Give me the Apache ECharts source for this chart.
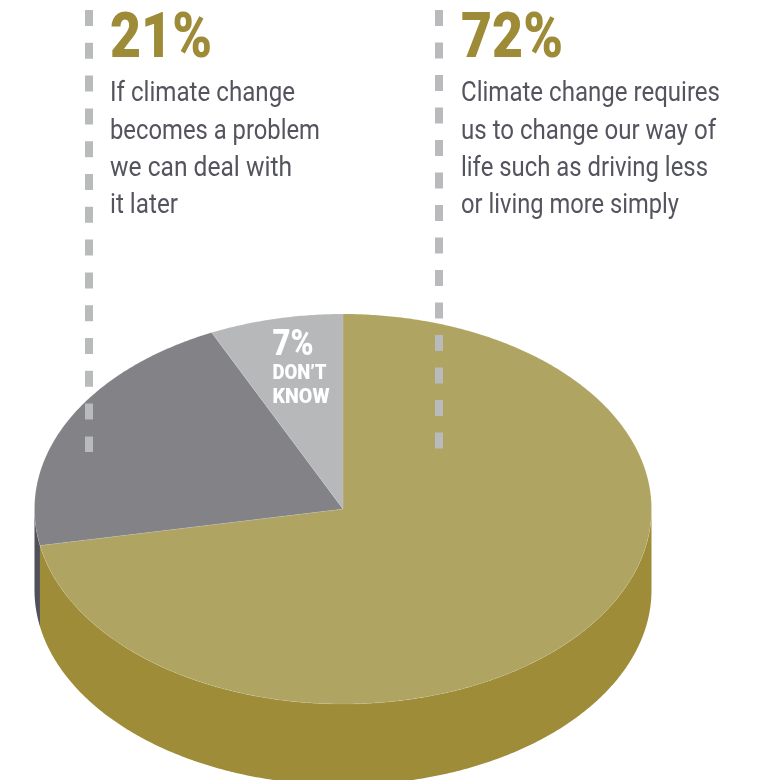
<!DOCTYPE html>
<html>
<head>
<meta charset="utf-8">
<style>html,body{margin:0;padding:0;background:#fff}#chart{width:764px;height:780px}</style>
<script src="https://cdn.jsdelivr.net/npm/echarts@6/dist/echarts.min.js"></script>
</head>
<body>
<div id="chart"></div>
<script>
// Survey shares, in clockwise order from twelve o'clock
const sliceNames = ['Change our way of life', 'Deal with it later', "Don't know"];
const sliceValues = [72, 21, 7];
const topColors = ['#afa461', '#838287', '#b7b8ba'];
const sideColors = ['#9e8c38', '#4f505a', '#8e8f92'];

const laterLines = ['If climate change', 'becomes a problem', 'we can deal with', 'it later'];
const changeLines = ['Climate change requires', 'us to change our way of', 'life such as driving less', 'or living more simply'];
const unsureLines = ['DON\u2019T', 'KNOW'];

// Set widths of the condensed text lines, in pixels
const laterWidths = [185, 210, 182, 68];
const changeWidths = [259, 255, 247, 218];
const unsureWidths = [54, 57];

// Tilted disc geometry
const CX = 343, CY = 509, RX = 308.5, RY = 195, DEPTH = 81;
const total = sliceValues.reduce((a, b) => a + b, 0);

const rimPoint = (deg, dy) => {
  const t = deg * Math.PI / 180;
  return [CX + RX * Math.sin(t), CY + dy - RY * Math.cos(t)];
};
const arcPoints = (from, to, dy) => {
  const pts = [];
  const n = Math.max(2, Math.ceil(Math.abs(to - from) * 2));
  for (let i = 0; i <= n; i++) pts.push(rimPoint(from + (to - from) * i / n, dy));
  return pts;
};

function renderSlice(params, api) {
  const i = params.dataIndex;
  let start = 0;
  for (let k = 0; k < i; k++) start += sliceValues[k];
  const a0 = start / total * 360;
  const a1 = (start + api.value(0)) / total * 360;
  const children = [];
  // The wall is only visible along the near half of the rim
  const s0 = Math.max(a0, 90), s1 = Math.min(a1, 270);
  if (s1 > s0) {
    children.push({
      type: 'polygon',
      shape: { points: arcPoints(s0, s1, 0).concat(arcPoints(s1, s0, DEPTH)) },
      style: { fill: sideColors[i] }
    });
  }
  children.push({
    type: 'polygon',
    z2: 5,
    shape: { points: [[CX, CY]].concat(arcPoints(a0, a1, 0)) },
    style: { fill: topColors[i], stroke: 'rgba(255,255,255,0.18)', lineWidth: 0.6 }
  });
  return { type: 'group', children };
}

const GOLD = '#9e8b37', INK = '#54545e', DASH = '#b9babc';
const FONT = 'Roboto';

// Squeeze a line horizontally so that it sets to the given width
const ruler = document.createElement('canvas').getContext('2d');
const fit = (text, size, weight, width) => {
  ruler.font = weight + ' ' + size + 'px ' + FONT;
  return width / ruler.measureText(text).width;
};

const textEl = (text, x, y, size, weight, fill, width) => ({
  type: 'text', x, y, z: 20, scaleX: fit(text, size, weight, width),
  style: { text, fontFamily: FONT, fontSize: size, fontWeight: weight, fill, verticalAlign: 'middle', align: 'left' }
});
const dashEl = (x, y2, gap) => ({
  type: 'line', z: 15,
  shape: { x1: x, y1: 10, x2: x, y2 },
  style: { stroke: DASH, lineWidth: 8, lineDash: [16, gap] }
});
const block = (x, value, lines, widths) => [
  textEl(value + '%', x, 41, 63, 900, GOLD, 102)
].concat(lines.map((l, i) => textEl(l, x, 94.5 + i * 37.3, 27, 400, INK, widths[i])));

const chart = echarts.init(document.getElementById('chart'), null, { renderer: 'canvas' });
chart.setOption({
  animation: false,
  backgroundColor: '#ffffff',
  series: [{
    type: 'custom',
    coordinateSystem: 'none',
    silent: true,
    renderItem: renderSlice,
    data: sliceValues.map((value, i) => ({ name: sliceNames[i], value: [value] }))
  }],
  graphic: {
    elements: [
      dashEl(89, 452, 16.8),
      dashEl(439, 449, 16.5),
      ...block(110, sliceValues[1], laterLines, laterWidths),
      ...block(461, sliceValues[0], changeLines, changeWidths),
      textEl(sliceValues[2] + '%', 272.5, 346, 36, 900, '#ffffff', 41),
      ...unsureLines.map((l, i) => textEl(l, 272.5, 373.5 + i * 24, 21, 900, '#ffffff', unsureWidths[i]))
    ]
  }
});
</script>
</body>
</html>
